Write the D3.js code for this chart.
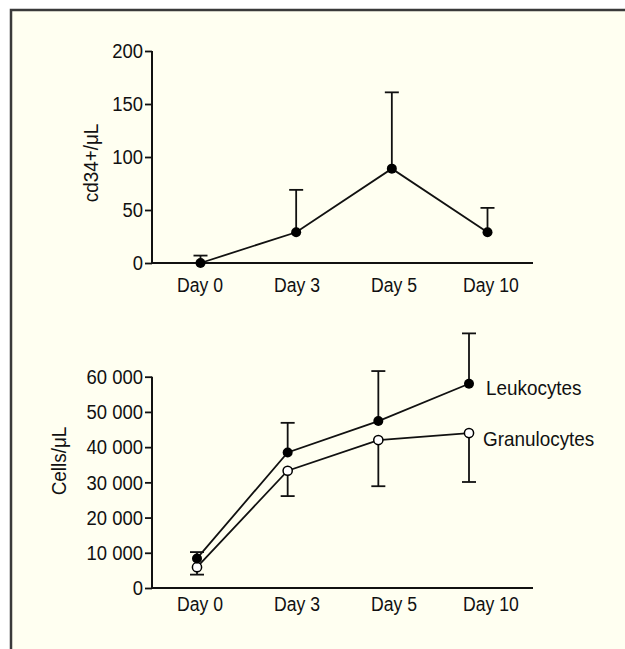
<!DOCTYPE html>
<html><head><meta charset="utf-8">
<script src="https://cdn.jsdelivr.net/npm/d3@7"></script>
<style>
body{margin:0;background:#fff;}
text{font-family:"Liberation Sans","Arial",sans-serif;font-size:21px;fill:#111;}
</style></head><body>
<svg id="c" width="625" height="649"></svg>
<script>
const days = ["Day 0","Day 3","Day 5","Day 10"];
const cd34Mean = [0, 29, 89, 29];
const cd34Err  = [7, 69, 161, 52];
const leukMean = [8400, 38500, 47400, 58000];
const leukErr  = [10200, 46900, 61600, 72300];
const granMean = [5900, 33300, 42000, 44000];
const granErr  = [3800, 26100, 28900, 30100];
const topTicks = [0, 50, 100, 150, 200];
const botTicks = [0, 10000, 20000, 30000, 40000, 50000, 60000];
const seriesNames = ["Leukocytes", "Granulocytes"];

// horizontal condensation of the typeface (reference uses a condensed grotesque)
const SX_NUM = 0.88, SX_DAY = 0.84, SX_WORD = 0.9;
const svg = d3.select("#c");
svg.append("rect").attr("x",11).attr("y",10).attr("width",720).attr("height",720)
  .attr("fill","#fffff1").attr("stroke","#3a3a3a").attr("stroke-width",2.5);

const axisX = 152, axisEnd = 533;
const labelX = d3.scalePoint().domain(days).range([200, 491]);

function addText(x, y, str, anchor, rot, sx){
  return svg.append("text")
    .attr("transform",`translate(${x},${y})${rot?" rotate(-90)":""} scale(${sx},1)`)
    .attr("text-anchor",anchor).text(str);
}

function drawAxes(y, ticks, fmt, y0, title, titleX, titleY, labelBase){
  const g = svg.append("g").attr("transform",`translate(${axisX},0)`);
  g.call(d3.axisLeft(y).tickValues(ticks).tickSize(7).tickPadding(2).tickFormat(fmt));
  g.select(".domain").remove();
  g.selectAll(".tick line").attr("stroke","#111").attr("stroke-width",1.8);
  g.selectAll(".tick text").attr("font-size",21).attr("fill","#111")
    .attr("font-family",'"Liberation Sans",Arial,sans-serif')
    .attr("x",-9/SX_NUM).attr("transform",`scale(${SX_NUM},1)`);
  svg.append("line").attr("x1",axisX).attr("x2",axisX).attr("y1",y(ticks[ticks.length-1])).attr("y2",y0+1)
    .attr("stroke","#111").attr("stroke-width",2);
  svg.append("line").attr("x1",axisX).attr("x2",axisEnd).attr("y1",y0).attr("y2",y0)
    .attr("stroke","#111").attr("stroke-width",2);
  days.forEach(d=>addText(labelX(d), labelBase, d, "middle", false, SX_DAY));
  addText(titleX, titleY, title, "middle", true, SX_WORD).attr("dominant-baseline","central");
}

function series(x, y, mean, err, filled){
  const g = svg.append("g");
  days.forEach((d,i)=>{
    const cx = x(d);
    g.append("line").attr("x1",cx).attr("x2",cx).attr("y1",y(mean[i])).attr("y2",y(err[i]))
      .attr("stroke","#111").attr("stroke-width",1.8);
    g.append("line").attr("x1",cx-7).attr("x2",cx+7).attr("y1",y(err[i])).attr("y2",y(err[i]))
      .attr("stroke","#111").attr("stroke-width",1.8);
  });
  g.append("path").datum(mean)
    .attr("d", d3.line().x((v,i)=>x(days[i])).y(v=>y(v)))
    .attr("fill","none").attr("stroke","#111").attr("stroke-width",1.8);
  g.selectAll("circle").data(mean).enter().append("circle")
    .attr("cx",(v,i)=>x(days[i])).attr("cy",v=>y(v)).attr("r",filled?5:4.6)
    .attr("fill",filled?"#000":"#fff").attr("stroke","#000").attr("stroke-width",filled?0:1.5);
}

// Top chart
const yTop = d3.scaleLinear().domain([0,200]).range([263,51]);
const xTop = d3.scalePoint().domain(days).range([200.5,487.5]);
drawAxes(yTop, topTicks, d3.format("d"), 263, "cd34+/\u03bcL", 91, 163, 292);
series(xTop, yTop, cd34Mean, cd34Err, true);

// Bottom chart
const yBot = d3.scaleLinear().domain([0,60000]).range([588,376.7]);
const xBot = d3.scalePoint().domain(days).range([197,469]);
const fmtBot = v => d3.format(",")(v).replace(/,/g," ");
drawAxes(yBot, botTicks, fmtBot, 588, "Cells/\u03bcL", 59, 461, 611);
series(xBot, yBot, granMean, granErr, false);
series(xBot, yBot, leukMean, leukErr, true);

const last = days.length-1;
addText(xBot(days[last])+17, yBot(leukMean[last])+4, seriesNames[0], "start", false, SX_WORD).attr("dominant-baseline","central");
addText(xBot(days[last])+14, yBot(granMean[last])+6, seriesNames[1], "start", false, SX_WORD).attr("dominant-baseline","central");
</script></body></html>
